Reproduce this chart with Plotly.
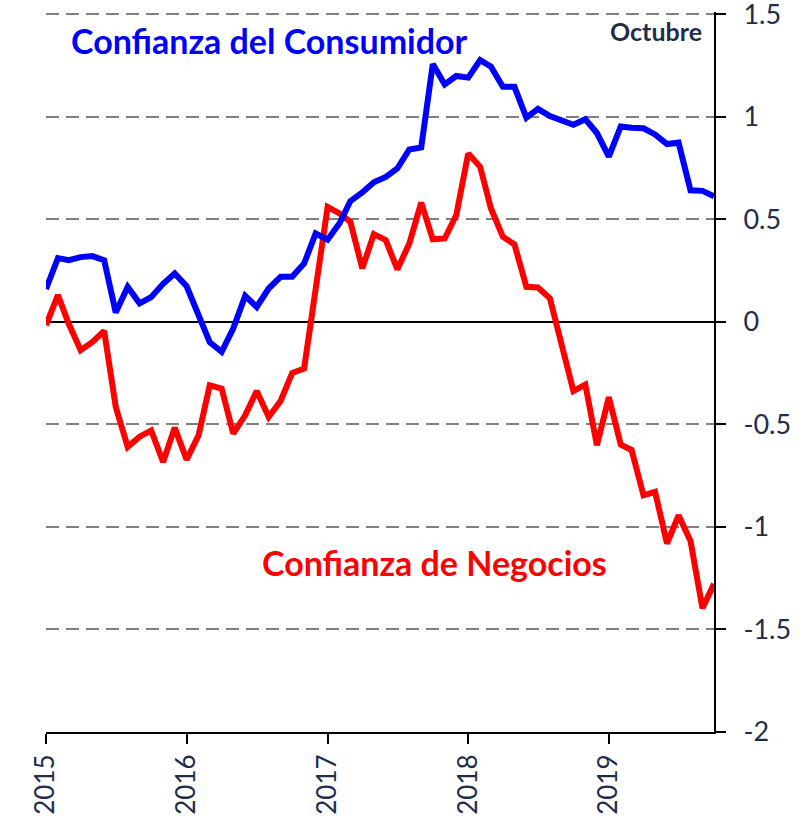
import pandas as pd
import plotly.graph_objects as go

months = pd.date_range("2015-01-01", periods=58, freq="MS")

consumidor = [0.16, 0.31, 0.30, 0.315, 0.32, 0.30, 0.045, 0.17, 0.09, 0.12,
              0.185, 0.235, 0.173, 0.023, -0.10, -0.147, -0.033, 0.126, 0.072, 0.162,
              0.219, 0.219, 0.284, 0.43, 0.40, 0.48, 0.588, 0.63, 0.68, 0.706,
              0.747, 0.84, 0.85, 1.256, 1.157, 1.198, 1.19, 1.276, 1.243, 1.145,
              1.145, 0.995, 1.038, 1.003, 0.983, 0.96, 0.987, 0.92, 0.805, 0.952,
              0.946, 0.943, 0.913, 0.866, 0.873, 0.641, 0.638, 0.612]

negocios = [-0.017, 0.13, -0.01, -0.139, -0.10, -0.045, -0.415, -0.61, -0.56, -0.53,
            -0.684, -0.516, -0.672, -0.554, -0.31, -0.326, -0.545, -0.456, -0.338, -0.464,
            -0.386, -0.25, -0.228, 0.16, 0.56, 0.528, 0.487, 0.26, 0.427, 0.398,
            0.255, 0.381, 0.581, 0.402, 0.406, 0.52, 0.82, 0.755, 0.552, 0.414,
            0.377, 0.17, 0.167, 0.114, -0.111, -0.338, -0.306, -0.602, -0.368, -0.599,
            -0.625, -0.846, -0.829, -1.081, -0.944, -1.069, -1.397, -1.278]

year_ticks = ["2015-01-01", "2016-01-01", "2017-01-01", "2018-01-01", "2019-01-01"]
year_labels = ["2015", "2016", "2017", "2018", "2019"]
y_ticks = [-2, -1.5, -1, -0.5, 0, 0.5, 1, 1.5]
y_labels = ["-2", "-1.5", "-1", "-0.5", "0", "0.5", "1", "1.5"]

NAVY = "#1F2D4D"
FONT = "Lato"

fig = go.Figure()
fig.add_trace(go.Scatter(x=months, y=negocios, mode="lines",
                         line=dict(color="#FF0000", width=6), showlegend=False))
fig.add_trace(go.Scatter(x=months, y=consumidor, mode="lines",
                         line=dict(color="#0000FF", width=6), showlegend=False))

fig.update_layout(
    width=809, height=816,
    margin=dict(l=46, r=95, t=12, b=84, autoexpand=False),
    paper_bgcolor="white", plot_bgcolor="white",
    font=dict(family=FONT, color=NAVY),
    xaxis=dict(
        range=["2015-01-01", "2019-10-01"],
        tickvals=year_ticks, ticktext=year_labels,
        tickangle=-90, tickfont=dict(size=26, color=NAVY, family=FONT),
        showgrid=False, zeroline=False,
        showline=True, linecolor="black", linewidth=2,
        ticks="outside", ticklen=10, tickwidth=2, tickcolor="black",
    ),
    yaxis=dict(
        range=[-2, 1.51], side="right",
        tickvals=y_ticks, ticktext=y_labels,
        tickfont=dict(size=27, color=NAVY, family=FONT),
        ticklabeloverflow="allow",
        showgrid=True, gridcolor="#808080", gridwidth=2, griddash="13px,7px",
        zeroline=True, zerolinecolor="black", zerolinewidth=1.5,
        showline=True, linecolor="black", linewidth=2,
        ticks="outside", ticklen=10, tickwidth=2, tickcolor="black",
        ticklabelstandoff=12,
    ),
    annotations=[
        dict(text="<b>Confianza del Consumidor</b>", xref="paper", yref="paper",
             x=0.035, y=0.961, xanchor="left", yanchor="middle", showarrow=False,
             font=dict(size=34, color="#0000FF", family=FONT)),
        dict(text="<b>Confianza de Negocios</b>", xref="paper", yref="paper",
             x=0.32, y=0.236, xanchor="left", yanchor="middle", showarrow=False,
             font=dict(size=34, color="#FF0000", family=FONT)),
        dict(text="<b>Octubre</b>", xref="paper", yref="paper",
             x=0.985, y=0.9735, xanchor="right", yanchor="middle", showarrow=False,
             font=dict(size=25, color=NAVY, family=FONT)),
    ],
)

fig.write_html("out.html", config={"displayModeBar": False},
               post_script="document.body.style.margin='0';")
